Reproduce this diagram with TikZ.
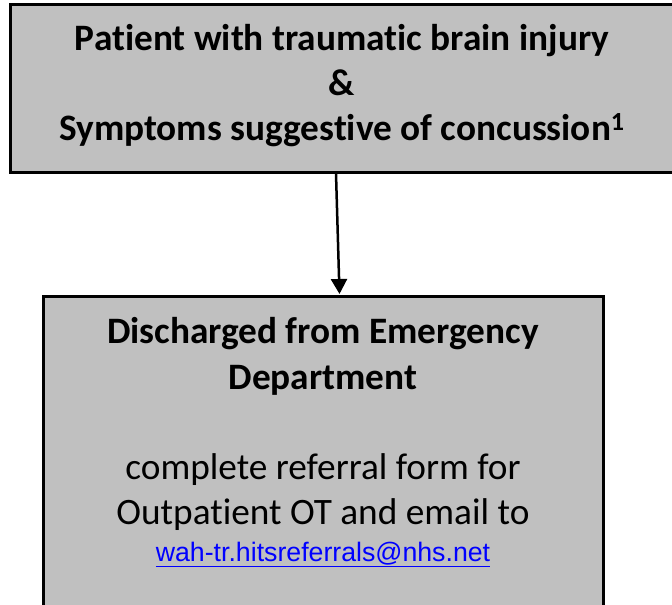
\documentclass[tikz,border=0pt]{standalone}
\usepackage{fontspec}
\setmainfont{Carlito}[RawFeature={-liga;-clig;-dlig;-calt}]
\newfontfamily\arialf{Liberation Sans}
\usetikzlibrary{arrows.meta,calc}
\definecolor{boxgray}{RGB}{192,192,192}
\definecolor{linkblue}{RGB}{0,0,255}
\tikzset{
  box/.style={draw=black,fill=boxgray,line width=3pt,rectangle,inner sep=0pt},
  toptext/.style={anchor=base,inner sep=0pt,font=\fontsize{37.3}{42}\selectfont\bfseries},
  headtext/.style={anchor=base,inner sep=0pt,font=\fontsize{37.3}{42}\selectfont\bfseries},
  bodytext/.style={anchor=base,inner sep=0pt,font=\fontsize{37.3}{42}\selectfont},
  mailtext/.style={anchor=base,inner sep=0pt,text=linkblue,font=\fontsize{26.7}{30}\selectfont\arialf},
  flow/.style={line width=2.5pt,-{Triangle[length=15pt,width=16pt]}}
}
\begin{document}
\begin{tikzpicture}[x=1pt,y=-1pt]
\clip (0,0) rectangle (672,605);
\fill[white] (0,0) rectangle (672,605);
\node[box,minimum width=666pt,minimum height=168pt] (top) at (343,88) {};
\node[box,minimum width=560pt,minimum height=316pt] (bot) at (323,454) {};
\node[toptext] (t1) at (342,50.5) {Patient with traumatic brain injury};
\node[toptext] (t2) at (342,95.5) {\&};
\node[toptext] (t3) at (342,140) {Symptoms suggestive of concussion\textsuperscript{1}};
\node[headtext] (b1) at (323,343) {Discharged from Emergency};
\node[headtext] (b2) at (323,389) {Department};
\node[bodytext] (b3) at (323,479.5) {complete referral form for};
\node[bodytext] (b4) at (323,524.5) {Outpatient OT and email to};
\node[mailtext] (b5) at (323,561) {\underline{wah-tr.hitsreferrals@nhs.net}};
\draw[flow] ($(top.south)+(-7,0)$) -- ($(bot.north)+(16.5,-0.5)$);
\end{tikzpicture}
\end{document}
